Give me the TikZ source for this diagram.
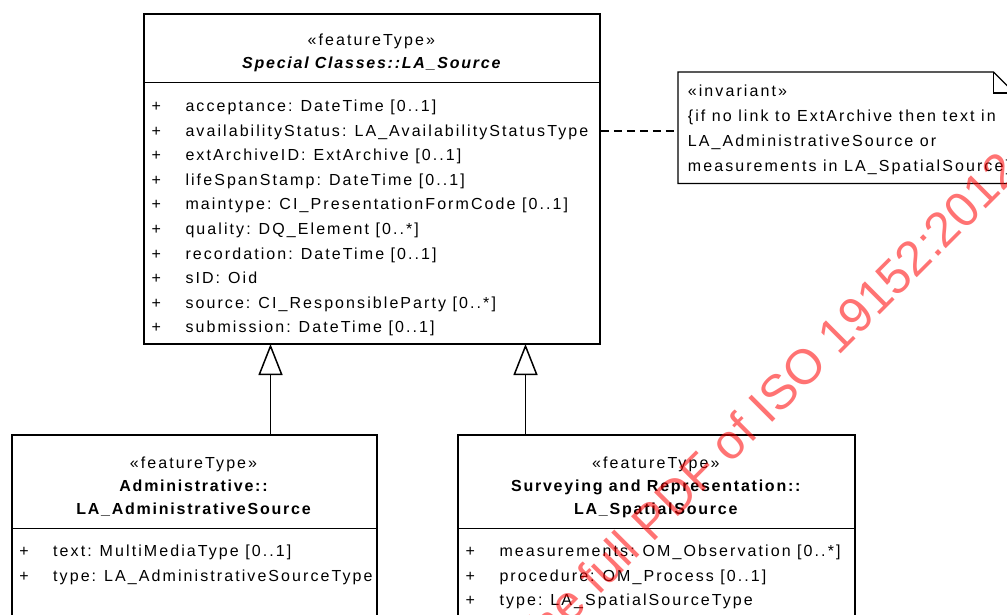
\documentclass[tikz,border=0pt]{standalone}
\usepackage{fontspec}
\setmainfont{Liberation Sans}
\newfontfamily\umlfont[LetterSpace=13]{Liberation Sans}
\newfontfamily\umlbold[LetterSpace=11]{Liberation Sans Bold}
\newfontfamily\umlbolditalic[LetterSpace=11]{Liberation Sans Bold Italic}
\usetikzlibrary{arrows.meta}

\begin{document}
\begin{tikzpicture}[x=1pt, y=-1pt,
		every node/.style={inner sep=0pt, font=\umlfont\fontsize{16}{19}\selectfont},
		classbox/.style={draw, line width=1.5pt, anchor=north west},
		attr/.style={anchor=base west},
		plus/.style={anchor=base},
		title/.style={anchor=base},
		boldtitle/.style={anchor=base, font=\umlbold\fontsize{16}{19}\selectfont},
		gen/.style={line width=1.5pt, -{Triangle[open, length=31pt, width=24pt]}},
		dep/.style={line width=1.3pt, dash pattern=on 8pt off 5pt},
		wmark/.style={text=red, text opacity=0.55, rotate=45, font=\fontsize{49}{54}\selectfont}]
		\useasboundingbox (0,0) rectangle (1007,614);
		\node[classbox, minimum width=456, minimum height=330] (src) at (143.3,13.3) {};
		\draw[line width=1.5pt] (143.3,82.7) -- (599.3,82.7);
		\node[title] (srcStereo) at (371.3,45) {«featureType»};
		\node[title, font=\umlbolditalic\fontsize{16}{19}\selectfont] (srcName) at (371.3,68.3) {Special Classes::LA\_Source};
		\node[plus] (srcP1) at (156.3,111.5) {+};
		\node[attr] (srcA1) at (185.3,111.5) {acceptance:\enspace DateTime [0..1]};
		\node[plus] (srcP2) at (156.3,136.1) {+};
		\node[attr] (srcA2) at (185.3,136.1) {availabilityStatus:\enspace LA\_AvailabilityStatusType};
		\node[plus] (srcP3) at (156.3,160.7) {+};
		\node[attr] (srcA3) at (185.3,160.7) {extArchiveID:\enspace ExtArchive [0..1]};
		\node[plus] (srcP4) at (156.3,185.3) {+};
		\node[attr] (srcA4) at (185.3,185.3) {lifeSpanStamp:\enspace DateTime [0..1]};
		\node[plus] (srcP5) at (156.3,209.9) {+};
		\node[attr] (srcA5) at (185.3,209.9) {maintype:\enspace CI\_PresentationFormCode [0..1]};
		\node[plus] (srcP6) at (156.3,234.5) {+};
		\node[attr] (srcA6) at (185.3,234.5) {quality:\enspace DQ\_Element [0..*]};
		\node[plus] (srcP7) at (156.3,259.1) {+};
		\node[attr] (srcA7) at (185.3,259.1) {recordation:\enspace DateTime [0..1]};
		\node[plus] (srcP8) at (156.3,283.7) {+};
		\node[attr] (srcA8) at (185.3,283.7) {sID:\enspace Oid};
		\node[plus] (srcP9) at (156.3,308.3) {+};
		\node[attr] (srcA9) at (185.3,308.3) {source:\enspace CI\_ResponsibleParty [0..*]};
		\node[plus] (srcP10) at (156.3,332.9) {+};
		\node[attr] (srcA10) at (185.3,332.9) {submission:\enspace DateTime [0..1]};
		\node[minimum width=336, minimum height=111, anchor=north west] (inv) at (678,72) {};
		\draw[line width=1.2pt] (inv.north west) -- ([xshift=-21pt]inv.north east) -- ([yshift=-21pt]inv.north east) -- (inv.south east) -- (inv.south west) -- cycle;
		\draw[line width=1.2pt] ([xshift=-21pt]inv.north east) -- ([xshift=-21pt, yshift=-21pt]inv.north east) -- ([yshift=-21pt]inv.north east);
		\node[attr] (invStereo) at (687.7,96) {«invariant»};
		\node[attr] (invL1) at (687.7,121) {\{if no link to ExtArchive then text in};
		\node[attr] (invL2) at (687.7,146) {LA\_AdministrativeSource or};
		\node[attr] (invL3) at (687.7,171) {measurements in LA\_SpatialSource\}};
		\coordinate (depLine) at (640,131);
		\draw[dep] (depLine -| src.east) -- (depLine -| inv.west);
		\node[classbox, minimum width=365, minimum height=200] (adm) at (11,434.3) {};
		\draw[line width=1.5pt] (11,528.3) -- (376,528.3);
		\node[title] (admStereo) at (193.5,468) {«featureType»};
		\node[boldtitle] (admName1) at (193.5,491) {Administrative::};
		\node[boldtitle] (admName2) at (193.5,514.5) {LA\_AdministrativeSource};
		\node[plus] (admP1) at (24,556.5) {+};
		\node[attr] (admA1) at (53,556.5) {text:\enspace MultiMediaType [0..1]};
		\node[plus] (admP2) at (24,581) {+};
		\node[attr] (admA2) at (53,581) {type:\enspace LA\_AdministrativeSourceType};
		\node[classbox, minimum width=397, minimum height=200] (spa) at (457.3,434.3) {};
		\draw[line width=1.5pt] (457.3,528.3) -- (854.3,528.3);
		\node[title] (spaStereo) at (655.8,468) {«featureType»};
		\node[boldtitle] (spaName1) at (655.8,491) {Surveying and Representation::};
		\node[boldtitle] (spaName2) at (655.8,514.5) {LA\_SpatialSource};
		\node[plus] (spaP1) at (470.3,556.5) {+};
		\node[attr] (spaA1) at (499.3,556.5) {measurements:\enspace OM\_Observation [0..*]};
		\node[plus] (spaP2) at (470.3,581) {+};
		\node[attr] (spaA2) at (499.3,581) {procedure:\enspace OM\_Process [0..1]};
		\node[plus] (spaP3) at (470.3,605.6) {+};
		\node[attr] (spaA3) at (499.3,605.6) {type:\enspace LA\_SpatialSourceType};
		\coordinate (genAdm) at (270.5,344);
		\coordinate (genSpa) at (525.5,344);
		\draw[gen] (adm.north -| genAdm) -- (genAdm);
		\draw[gen] (spa.north -| genSpa) -- (genSpa);
		\node[wmark, anchor=base east] (wm) at (1022,173) {the full PDF of ISO 19152:2012};
	\end{tikzpicture}
\end{document}
